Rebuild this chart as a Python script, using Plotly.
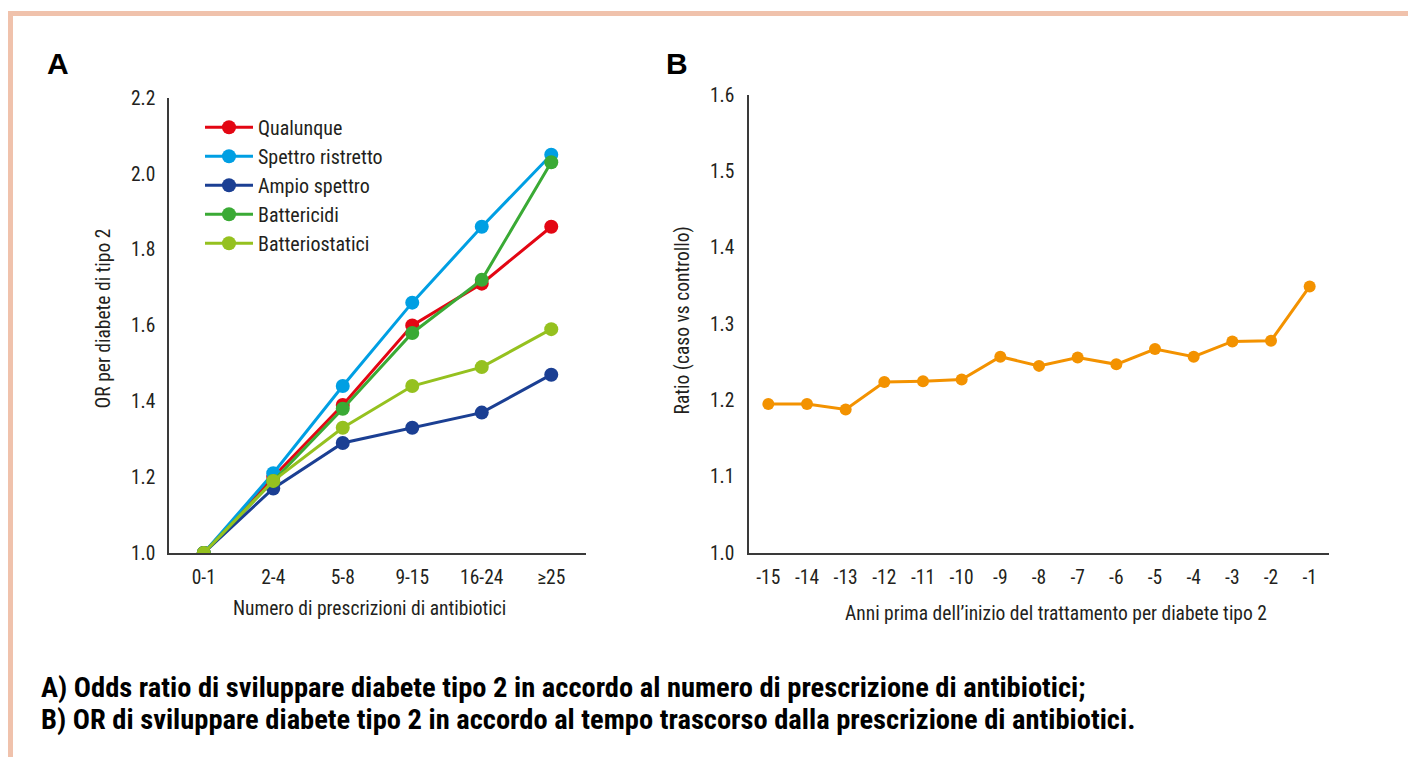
import plotly.graph_objects as go

# ---- data ----
categories_a = ["0-1", "2-4", "5-8", "9-15", "16-24", "≥25"]
qualunque = [1.00, 1.20, 1.39, 1.60, 1.71, 1.86]
spettro_ristretto = [1.00, 1.21, 1.44, 1.66, 1.86, 2.05]
ampio_spettro = [1.00, 1.17, 1.29, 1.33, 1.37, 1.47]
battericidi = [1.00, 1.19, 1.38, 1.58, 1.72, 2.03]
batteriostatici = [1.00, 1.19, 1.33, 1.44, 1.49, 1.59]

series_names = ["Qualunque", "Spettro ristretto", "Ampio spettro", "Battericidi", "Batteriostatici"]
series_values = [qualunque, spettro_ristretto, ampio_spettro, battericidi, batteriostatici]
series_colors = ["#E30613", "#009FE3", "#1B3F93", "#3AAA35", "#95C11F"]

categories_b = ["-15", "-14", "-13", "-12", "-11", "-10", "-9", "-8", "-7", "-6", "-5", "-4", "-3", "-2", "-1"]
ratio_b = [1.195, 1.195, 1.188, 1.224, 1.225, 1.227, 1.257, 1.245, 1.256, 1.247, 1.267, 1.257, 1.277, 1.278, 1.349]

ticks_a = [1.0, 1.2, 1.4, 1.6, 1.8, 2.0, 2.2]
ticks_b = [1.0, 1.1, 1.2, 1.3, 1.4, 1.5, 1.6]

W, H = 1408, 769
FONT = "Roboto Condensed, Roboto, sans-serif"
TXT = "#231F20"
AXC = "#3A3A3A"
BORDER = "#F0C2AC"


def px(x):
    return x / W


def py(y):
    # vertical placement calibrated against the rendered page
    s = (y - 10) / 0.972
    return 1 - s / H


fig = go.Figure()

for i in range(5):
    fig.add_trace(go.Scatter(
        x=categories_a, y=series_values[i], name=series_names[i],
        mode="lines+markers",
        line=dict(color=series_colors[i], width=3),
        marker=dict(color=series_colors[i], size=14),
        xaxis="x", yaxis="y", legendgroup=f"g{i}", legendrank=i + 1,
    ))

fig.add_trace(go.Scatter(
    x=categories_b, y=ratio_b, name="Ratio",
    mode="lines+markers",
    line=dict(color="#F39200", width=3),
    marker=dict(color="#F39200", size=12),
    xaxis="x2", yaxis="y2", showlegend=False,
))

axis_common = dict(
    showgrid=False, zeroline=False, showline=True, linecolor=AXC, linewidth=1.5,
    ticks="outside", tickcolor="rgba(0,0,0,0)",
    tickfont=dict(family=FONT, size=19.5, color=TXT),
)

title_font = dict(family=FONT, size=19.5, color=TXT)

fig.update_layout(
    width=W, height=H,
    margin=dict(l=0, r=0, t=0, b=0),
    paper_bgcolor="white", plot_bgcolor="white",
    font=dict(family=FONT, color=TXT),
    xaxis=dict(domain=[px(169), px(586)], anchor="y", type="category",
               categoryorder="array", categoryarray=categories_a,
               range=[-0.5, 5.5], ticklen=6, **axis_common),
    yaxis=dict(domain=[py(553), py(97)], anchor="x", range=[1.0, 2.2],
               tickvals=ticks_a, ticktext=[f"{v:.1f}" for v in ticks_a],
               ticklen=8, **axis_common),
    xaxis2=dict(domain=[px(749), px(1329)], anchor="y2", type="category",
                categoryorder="array", categoryarray=categories_b,
                range=[-0.5, 14.5], ticklen=6, **axis_common),
    yaxis2=dict(domain=[py(553), py(94)], anchor="x2", range=[1.0, 1.6],
                tickvals=ticks_b, ticktext=[f"{v:.1f}" for v in ticks_b],
                ticklen=9, **axis_common),
    legend=dict(x=px(200), y=py(107), xanchor="left", yanchor="top",
                bgcolor="rgba(0,0,0,0)", tracegroupgap=0, itemwidth=48,
                font=dict(family=FONT, size=20, color=TXT)),
    shapes=[
        dict(type="rect", xref="paper", yref="paper", x0=px(8), x1=1, y0=py(15), y1=py(10),
             fillcolor=BORDER, line=dict(width=0), layer="below"),
        dict(type="rect", xref="paper", yref="paper", x0=px(8), x1=px(13), y0=0, y1=py(10),
             fillcolor=BORDER, line=dict(width=0), layer="below"),
    ],
    annotations=[
        dict(text="<b>A</b>", x=px(45), y=py(63), xref="paper", yref="paper", xanchor="left",
             yanchor="middle", showarrow=False,
             font=dict(family="Liberation Sans, Arial, sans-serif", size=30, color="#000")),
        dict(text="<b>B</b>", x=px(664), y=py(63), xref="paper", yref="paper", xanchor="left",
             yanchor="middle", showarrow=False,
             font=dict(family="Liberation Sans, Arial, sans-serif", size=30, color="#000")),
        dict(text="Numero di prescrizioni di antibiotici", x=px(370), y=py(609), xref="paper", yref="paper",
             xanchor="center", yanchor="middle", showarrow=False, font=title_font),
        dict(text="OR per diabete di tipo 2", x=px(103), y=py(318), xref="paper", yref="paper",
             xanchor="center", yanchor="middle", textangle=-90, showarrow=False, font=title_font),
        dict(text="Anni prima dell’inizio del trattamento per diabete tipo 2", x=px(1056), y=py(614),
             xref="paper", yref="paper", xanchor="center", yanchor="middle", showarrow=False, font=title_font),
        dict(text="Ratio (caso vs controllo)", x=px(682), y=py(320), xref="paper", yref="paper",
             xanchor="center", yanchor="middle", textangle=-90, showarrow=False, font=title_font),
        dict(text="<b>A) Odds ratio di sviluppare diabete tipo 2 in accordo al numero di prescrizione di antibiotici;</b>",
             x=px(39), y=py(688), xref="paper", yref="paper", xanchor="left", yanchor="middle",
             showarrow=False, font=dict(family=FONT, size=28.5, color="#000")),
        dict(text="<b>B) OR di sviluppare diabete tipo 2 in accordo al tempo trascorso dalla prescrizione di antibiotici.</b>",
             x=px(39), y=py(720), xref="paper", yref="paper", xanchor="left", yanchor="middle",
             showarrow=False, font=dict(family=FONT, size=28.5, color="#000")),
    ],
)

fig.write_html("out.html", config={"displayModeBar": False},
               post_script="document.documentElement.style.margin='0';document.body.style.margin='0';"
                           "document.body.style.overflow='hidden';")
